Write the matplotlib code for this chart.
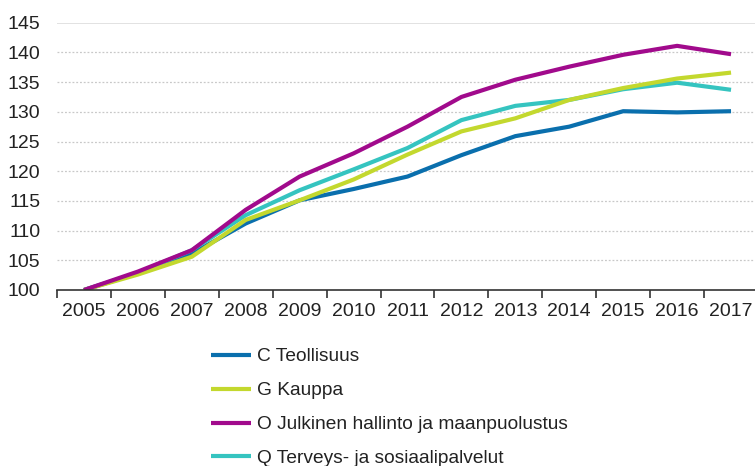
import matplotlib
matplotlib.use("Agg")
import matplotlib.pyplot as plt
import numpy as np

plt.rcParams['font.family'] = ['Liberation Sans', 'DejaVu Sans']

years = ['2005', '2006', '2007', '2008', '2009', '2010', '2011', '2012',
         '2013', '2014', '2015', '2016', '2017']
c_teollisuus = [100, 102.8, 106.1, 111.2, 115.1, 117.0, 119.1, 122.7, 125.9, 127.5, 130.1, 129.9, 130.1]
g_kauppa = [100, 102.6, 105.6, 111.8, 115.1, 118.6, 122.8, 126.7, 128.9, 132.0, 134.0, 135.6, 136.6]
o_julkinen = [100, 103.1, 106.7, 113.5, 119.1, 123.0, 127.5, 132.5, 135.4, 137.6, 139.6, 141.1, 139.7]
q_terveys = [100, 102.9, 106.7, 112.6, 116.8, 120.3, 123.9, 128.6, 131.0, 132.0, 133.8, 134.9, 133.7]

labels = ['C Teollisuus', 'G Kauppa', 'O Julkinen hallinto ja maanpuolustus',
          'Q Terveys- ja sosiaalipalvelut']
colors = ['#0a6fad', '#c3d82e', '#a10a8c', '#35c4c0']
zorders = [3, 5, 6, 4]
yticks = [100, 105, 110, 115, 120, 125, 130, 135, 140, 145]

fig = plt.figure(figsize=(7.55, 4.66), dpi=100)
ax = fig.add_axes([57/755, 176/466, 701/755, 267.3/466])

x = np.arange(len(years))
series = [c_teollisuus, g_kauppa, o_julkinen, q_terveys]
handles = []
for s, lab, col, z in zip(series, labels, colors, zorders):
    h, = ax.plot(x, s, color=col, lw=3.0, label=lab, zorder=z,
                 solid_joinstyle='round', solid_capstyle='butt')
    handles.append(h)

ax.set_xlim(-0.5, len(years) - 0.5)
ax.set_ylim(100, 145)
ax.set_yticks(yticks)
ax.set_yticklabels([str(v) for v in yticks])
ax.set_xticks(x)
ax.set_xticklabels(years)
ax.set_xticks(np.arange(-0.5, len(years)), minor=True)
ax.tick_params(axis='x', which='major', length=0, pad=9, labelsize=14, labelcolor='#222222')
ax.tick_params(axis='x', which='minor', length=6, width=1.2, color='#333333', direction='out')
ax.tick_params(axis='y', length=0, pad=12, labelsize=14, labelcolor='#222222')

for v in yticks[1:-1]:
    ax.axhline(v, color='#c8c8c8', lw=0.9, ls=(0, (1.5, 1.5)), zorder=1)
ax.axhline(145, color='#dddddd', lw=1.2, zorder=1)

for sp in ['top', 'right', 'left']:
    ax.spines[sp].set_visible(False)
ax.spines['bottom'].set_color('#333333')
ax.spines['bottom'].set_linewidth(1.2)
ax.spines['bottom'].set_zorder(7)

leg = fig.legend(handles=handles, labels=labels, loc='upper left',
                 bbox_to_anchor=(211/755, 1 - 348/466), frameon=False,
                 fontsize=13.8, handlelength=2.08, handletextpad=0.31,
                 labelspacing=0.86, borderpad=0, borderaxespad=0)
for t in leg.get_texts():
    t.set_color('#222222')

fig.savefig('out.png', dpi=100)
